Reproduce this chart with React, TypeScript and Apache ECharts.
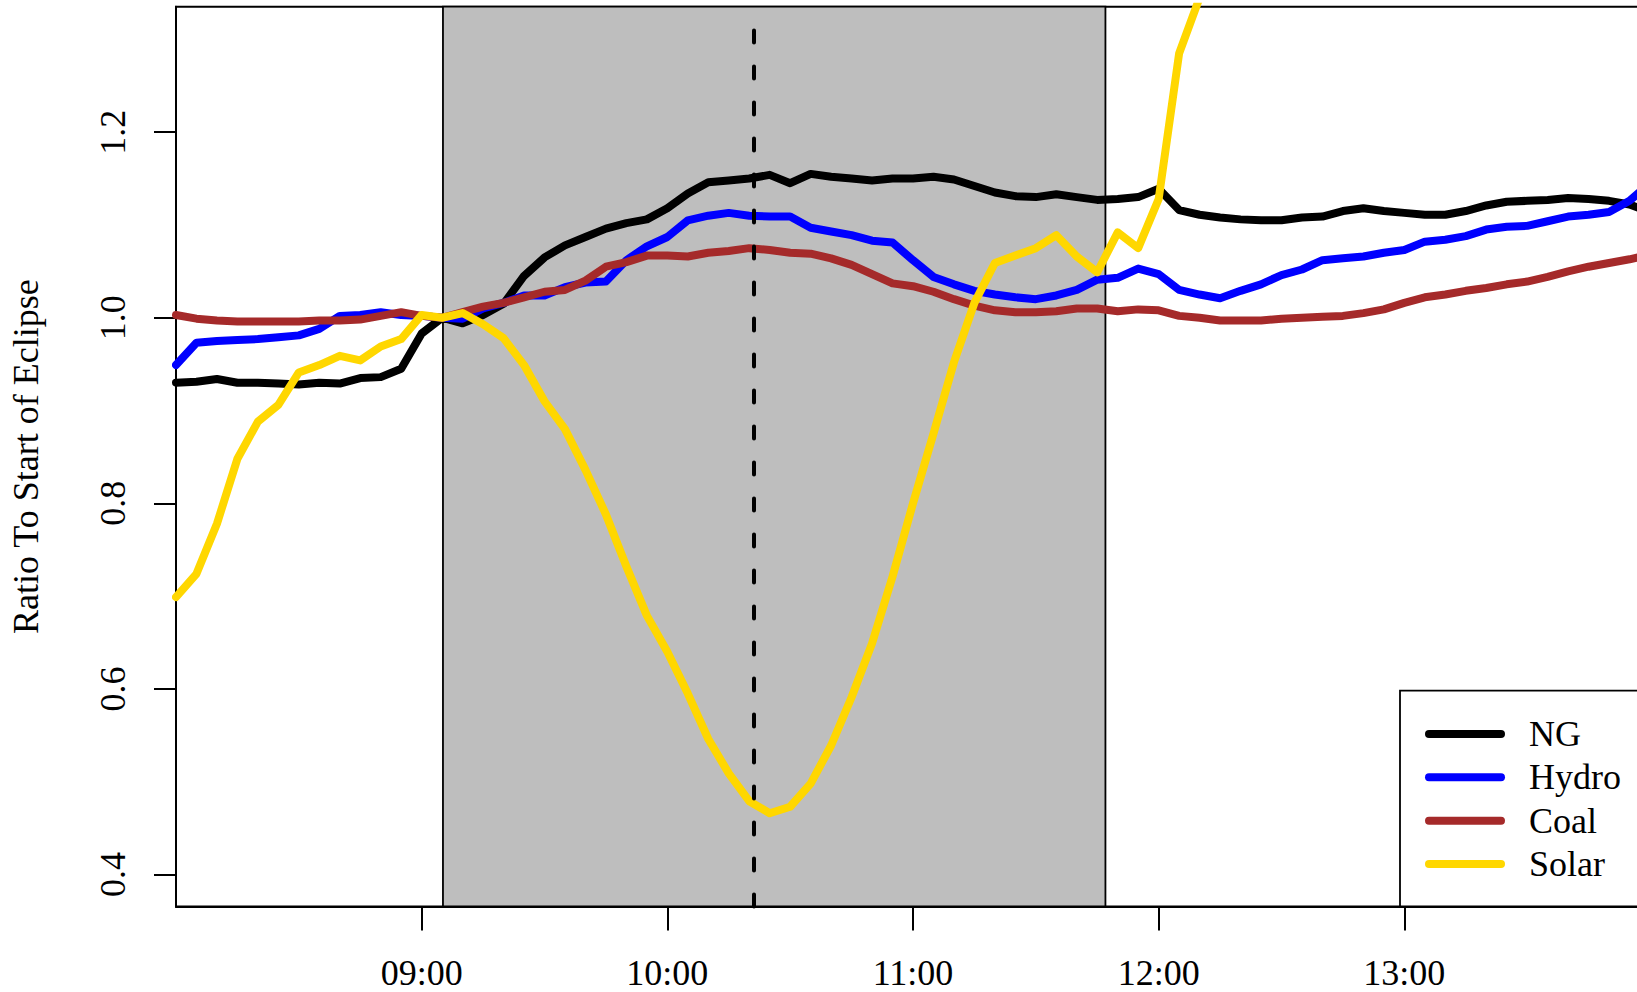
import React, { useEffect, useRef } from "react";
import * as echarts from "echarts";

// ---- data ----
const times = [
  "08:00", "08:05", "08:10", "08:15", "08:20", "08:25", "08:30", "08:35", "08:40", "08:45", "08:50", "08:55",
  "09:00", "09:05", "09:10", "09:15", "09:20", "09:25", "09:30", "09:35", "09:40", "09:45", "09:50", "09:55",
  "10:00", "10:05", "10:10", "10:15", "10:20", "10:25", "10:30", "10:35", "10:40", "10:45", "10:50", "10:55",
  "11:00", "11:05", "11:10", "11:15", "11:20", "11:25", "11:30", "11:35", "11:40", "11:45", "11:50", "11:55",
  "12:00", "12:05", "12:10", "12:15", "12:20", "12:25", "12:30", "12:35", "12:40", "12:45", "12:50", "12:55",
  "13:00", "13:05", "13:10", "13:15", "13:20", "13:25", "13:30", "13:35", "13:40", "13:45", "13:50", "13:55",
  "14:00",
];

const ngRatio = [
  0.930, 0.931, 0.934, 0.930, 0.930, 0.929, 0.928, 0.930, 0.929, 0.935, 0.936, 0.945,
  0.983, 1.000, 0.994, 1.003, 1.015, 1.045, 1.065, 1.078, 1.087, 1.096, 1.102, 1.106,
  1.118, 1.134, 1.146, 1.148, 1.150, 1.154, 1.145, 1.155, 1.152, 1.150, 1.148, 1.150,
  1.150, 1.152, 1.149, 1.142, 1.135, 1.131, 1.130, 1.133, 1.130, 1.127, 1.128, 1.130,
  1.139, 1.116, 1.111, 1.108, 1.106, 1.105, 1.105, 1.108, 1.109, 1.115, 1.118, 1.115,
  1.113, 1.111, 1.111, 1.115, 1.121, 1.125, 1.126, 1.127, 1.129, 1.128, 1.126, 1.122,
  1.114,
];

const hydroRatio = [
  0.949, 0.973, 0.975, 0.976, 0.977, 0.979, 0.981, 0.988, 1.002, 1.003, 1.006, 1.003,
  1.002, 1.000, 0.999, 1.010, 1.016, 1.024, 1.024, 1.033, 1.038, 1.039, 1.062, 1.077,
  1.087, 1.105, 1.110, 1.113, 1.110, 1.109, 1.109, 1.097, 1.093, 1.089, 1.083, 1.081,
  1.062, 1.044, 1.036, 1.029, 1.025, 1.022, 1.020, 1.024, 1.030, 1.041, 1.043, 1.053,
  1.047, 1.030, 1.025, 1.021, 1.029, 1.036, 1.046, 1.052, 1.062, 1.064, 1.066, 1.070,
  1.073, 1.082, 1.084, 1.088, 1.095, 1.098, 1.099, 1.104, 1.109, 1.111, 1.114, 1.126,
  1.145,
];

const coalRatio = [
  1.003, 0.999, 0.997, 0.996, 0.996, 0.996, 0.996, 0.997, 0.997, 0.998, 1.002, 1.006,
  1.002, 1.000, 1.006, 1.012, 1.016, 1.022, 1.028, 1.030, 1.040, 1.055, 1.060, 1.067,
  1.067, 1.066, 1.070, 1.072, 1.075, 1.073, 1.070, 1.069, 1.064, 1.057, 1.047, 1.037,
  1.034, 1.028, 1.020, 1.013, 1.008, 1.006, 1.006, 1.007, 1.010, 1.010, 1.007, 1.009,
  1.008, 1.002, 1.000, 0.997, 0.997, 0.997, 0.999, 1.000, 1.001, 1.002, 1.005, 1.009,
  1.016, 1.022, 1.025, 1.029, 1.032, 1.036, 1.039, 1.044, 1.050, 1.055, 1.059, 1.063,
  1.068,
];

const solarRatio: (number | null)[] = [
  0.699, 0.724, 0.778, 0.848, 0.888, 0.906, 0.941, 0.949, 0.959, 0.954, 0.969, 0.977,
  1.003, 1.000, 1.005, 0.993, 0.978, 0.949, 0.910, 0.880, 0.836, 0.788, 0.732, 0.679,
  0.640, 0.595, 0.546, 0.509, 0.479, 0.466, 0.473, 0.498, 0.539, 0.591, 0.649, 0.721,
  0.800, 0.875, 0.952, 1.016, 1.059, 1.067, 1.075, 1.089, 1.066, 1.049, 1.092, 1.075,
  1.128, 1.285, 1.345, null, null, null, null, null, null, null, null, null,
  null, null, null, null, null, null, null, null, null, null, null, null,
  null,
];

const seriesNames = ["NG", "Hydro", "Coal", "Solar"];
const seriesColors = ["#000000", "#0000FF", "#A52A2A", "#FFD700"];
const seriesValues = [ngRatio, hydroRatio, coalRatio, solarRatio];

const xTickLabels = ["09:00", "10:00", "11:00", "12:00", "13:00"];
const yTickValues = [0.4, 0.6, 0.8, 1.0, 1.2];

const eclipseStart = "09:05";
const eclipseMax = "10:21";
const eclipseEnd = "11:47";

const X_MIN = "08:00";
const X_MAX = "14:00";
const Y_MIN = 0.3655;
const Y_MAX = 1.3352;

const FONT = "Liberation Serif";

function toMin(t: string): number {
  const [h, m] = t.split(":").map(Number);
  return h * 60 + m;
}
function fmtMin(v: number): string {
  const h = Math.floor(v / 60);
  const m = Math.round(v - h * 60);
  return String(h).padStart(2, "0") + ":" + String(m).padStart(2, "0");
}

export default function App() {
  const ref = useRef<HTMLDivElement>(null);

  useEffect(() => {
    if (!ref.current) return;
    const chart = echarts.init(ref.current, undefined, { renderer: "svg" });

    const lineSeries = seriesNames.map((name, k) => ({
      type: "line",
      name,
      data: times.map((t, i) => [toMin(t), seriesValues[k][i]]),
      showSymbol: false,
      symbol: "none",
      connectNulls: false,
      clip: true,
      silent: true,
      z: 3,
      lineStyle: { color: seriesColors[k], width: 8, cap: "round", join: "round" },
      itemStyle: { color: seriesColors[k] },
    }));

    const legendRowsY = [734, 777.3, 820.7, 864];
    const legendGraphics: any[] = [
      {
        type: "rect",
        z: 50,
        shape: { x: 1400, y: 690.7, width: 320, height: 215.8 },
        style: { fill: "#ffffff", stroke: "#000000", lineWidth: 1.8 },
      },
    ];
    seriesNames.forEach((name, k) => {
      legendGraphics.push({
        type: "line",
        z: 51,
        shape: { x1: 1429, y1: legendRowsY[k], x2: 1501, y2: legendRowsY[k] },
        style: { stroke: seriesColors[k], lineWidth: 8, lineCap: "round" },
      });
      legendGraphics.push({
        type: "text",
        z: 51,
        x: 1529,
        y: legendRowsY[k],
        style: {
          text: name,
          fill: "#000000",
          fontSize: 36,
          fontFamily: FONT,
          align: "left",
          verticalAlign: "middle",
        },
      });
    });

    chart.setOption({
      animation: false,
      backgroundColor: "#ffffff",
      grid: {
        left: 176,
        right: 10,
        top: 6.7,
        bottom: 85.5,
        show: true,
        borderColor: "#000000",
        borderWidth: 2,
        backgroundColor: "transparent",
      },
      xAxis: {
        type: "value",
        min: toMin(X_MIN),
        max: toMin(X_MAX),
        splitLine: { show: false },
        axisLine: { show: true, onZero: false, lineStyle: { color: "#000", width: 2 } },
        axisTick: {
          show: true,
          length: 24,
          customValues: xTickLabels.map(toMin),
          lineStyle: { color: "#000", width: 2 },
        },
        axisLabel: {
          customValues: xTickLabels.map(toMin),
          margin: 48,
          fontSize: 36,
          fontFamily: FONT,
          color: "#000",
          formatter: (v: number) => fmtMin(v),
        },
      },
      yAxis: {
        type: "value",
        min: Y_MIN,
        max: Y_MAX,
        splitLine: { show: false },
        axisLine: { show: true, onZero: false, lineStyle: { color: "#000", width: 2 } },
        axisTick: {
          show: true,
          length: 22,
          customValues: yTickValues,
          lineStyle: { color: "#000", width: 2 },
        },
        axisLabel: {
          customValues: yTickValues,
          rotate: 90,
          margin: 45,
          fontSize: 36,
          fontFamily: FONT,
          color: "#000",
          formatter: (v: number) => v.toFixed(1),
        },
        name: "Ratio To Start of Eclipse",
        nameLocation: "middle",
        nameRotate: 90,
        nameGap: 132,
        nameTextStyle: { fontSize: 36, fontFamily: FONT, color: "#000" },
      },
      graphic: legendGraphics,
      series: [
        {
          type: "line",
          name: "eclipse",
          data: [],
          z: 1,
          silent: true,
          markArea: {
            silent: true,
            itemStyle: { color: "#BEBEBE", borderColor: "#000000", borderWidth: 1.8 },
            label: { show: false },
            data: [[{ xAxis: toMin(eclipseStart) + 0.2 }, { xAxis: toMin(eclipseEnd) }]],
          },
        },
        ...lineSeries,
        {
          type: "line",
          name: "max",
          data: [],
          z: 10,
          silent: true,
          markLine: {
            silent: true,
            symbol: ["none", "none"],
            label: { show: false },
            lineStyle: { color: "#000000", width: 4, type: [12, 24], cap: "round" },
            data: [[{ coord: [toMin(eclipseMax), Y_MIN] }, { coord: [toMin(eclipseMax), Y_MAX] }]],
          },
        },
      ],
    });

    return () => chart.dispose();
  }, []);

  return (
    <div
      style={{
        position: "fixed",
        left: 0,
        top: 0,
        width: 1637,
        height: 992,
        overflow: "hidden",
        background: "#fff",
      }}
    >
      <div ref={ref} style={{ width: 1660, height: 992 }} />
    </div>
  );
}
